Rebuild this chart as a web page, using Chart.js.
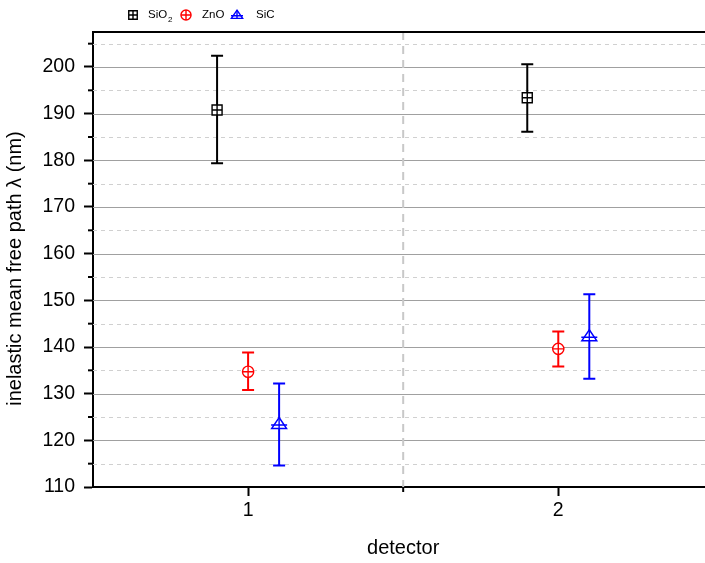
<!DOCTYPE html>
<html>
<head>
<meta charset="utf-8">
<script src="https://cdn.jsdelivr.net/npm/chart.js@4.4.1/dist/chart.umd.min.js"></script>
<style>
  body { margin: 0; background: #fff; }
  #wrap { width: 705px; height: 563px; }
</style>
</head>
<body>
<div id="wrap"><canvas id="chart"></canvas></div>
<script>
// values
const detectors = [1, 2];
const yTickValues = [110, 120, 130, 140, 150, 160, 170, 180, 190, 200];
const yMinorValues = [115, 125, 135, 145, 155, 165, 175, 185, 195, 205];

const sio2 = [190.8, 193.4];
const sio2Low = [179.4, 186.1];
const sio2High = [202.4, 200.6];

const zno = [134.7, 139.6];
const znoLow = [130.8, 135.8];
const znoHigh = [138.8, 143.3];

const sic = [123.5, 142.3];
const sicLow = [114.6, 133.2];
const sicHigh = [132.2, 151.3];

const FONT = "'Liberation Sans', Arial, sans-serif";
const yTitle = 'inelastic mean free path λ (nm)';
const xTitle = 'detector';

const makePoints = (vals, lows, highs, shift) =>
    detectors.map((d, i) => ({ x: d + shift, y: vals[i], lo: lows[i], hi: highs[i] }));

const drawMarker = (c, kind, x, y, color, k = 1) => {
    c.save();
    c.strokeStyle = color;
    c.lineWidth = 1.4;
    c.fillStyle = '#fff';
    c.beginPath();
    if (kind === 'square') {
        const h = 5 * k;
        c.rect(x - h, y - h, 2 * h, 2 * h);
        c.fill(); c.stroke();
        c.beginPath();
        c.moveTo(x - h, y); c.lineTo(x + h, y);
        c.moveTo(x, y - h); c.lineTo(x, y + h);
    } else if (kind === 'circle') {
        const r = 5.6 * k;
        c.arc(x, y, r, 0, Math.PI * 2);
        c.fill(); c.stroke();
        c.beginPath();
        c.moveTo(x - r, y); c.lineTo(x + r, y);
        c.moveTo(x, y - r); c.lineTo(x, y + r);
    } else {
        c.moveTo(x, y - 6.5 * k);
        c.lineTo(x + 7.5 * k, y + 4.5 * k);
        c.lineTo(x - 7.5 * k, y + 4.5 * k);
        c.closePath();
        c.fill(); c.stroke();
        c.beginPath();
        c.moveTo(x - 8 * k, y + 1 * k); c.lineTo(x + 8 * k, y + 1 * k);
        c.moveTo(x, y - 6.5 * k); c.lineTo(x, y + 4.5 * k);
    }
    c.stroke();
    c.restore();
};

const kinds = ['square', 'circle', 'triangle'];

// grid, separator, minor ticks, top frame, titles, error bars, legend
const backdrop = {
    id: 'backdrop',
    beforeDatasetsDraw(chart) {
        const c = chart.ctx;
        const a = chart.chartArea;
        const xs = chart.scales.x;
        const ys = chart.scales.y;
        c.save();
        c.lineWidth = 1;
        c.strokeStyle = '#d0d0d0';
        c.setLineDash([4, 4]);
        yMinorValues.forEach(v => {
            const py = Math.round(ys.getPixelForValue(v)) + 0.5;
            c.beginPath(); c.moveTo(a.left, py); c.lineTo(a.right, py); c.stroke();
        });
        c.setLineDash([]);
        c.strokeStyle = '#a0a0a0';
        yTickValues.slice(1).forEach(v => {
            const py = Math.round(ys.getPixelForValue(v)) + 0.5;
            c.beginPath(); c.moveTo(a.left, py); c.lineTo(a.right, py); c.stroke();
        });
        // separator between detectors
        const sx = xs.getPixelForValue(1.5);
        c.strokeStyle = '#c8c8c8';
        c.lineWidth = 2;
        c.setLineDash([8, 6]);
        c.beginPath(); c.moveTo(sx, a.top); c.lineTo(sx, a.bottom); c.stroke();
        c.setLineDash([]);
        // minor ticks
        c.strokeStyle = '#000';
        c.lineWidth = 2;
        yMinorValues.forEach(v => {
            const py = ys.getPixelForValue(v);
            c.beginPath(); c.moveTo(a.left - 5, py); c.lineTo(a.left, py); c.stroke();
        });
        c.beginPath(); c.moveTo(sx, a.bottom); c.lineTo(sx, a.bottom + 5); c.stroke();
        // top frame
        c.beginPath(); c.moveTo(a.left - 1, a.top); c.lineTo(a.right, a.top); c.stroke();
        // titles
        c.font = '20px ' + FONT;
        c.fillStyle = '#000';
        c.textAlign = 'center';
        c.textBaseline = 'middle';
        c.fillText(xTitle, sx, 548);
        c.translate(15, (a.top + a.bottom) / 2 + 9);
        c.rotate(-Math.PI / 2);
        c.fillText(yTitle, 0, 0);
        c.restore();
    },
    afterDatasetsDraw(chart) {
        const c = chart.ctx;
        const ys = chart.scales.y;
        chart.data.datasets.forEach((ds, di) => {
            const meta = chart.getDatasetMeta(di);
            meta.data.forEach((pt, i) => {
                const raw = ds.data[i];
                const top = ys.getPixelForValue(raw.hi);
                const bot = ys.getPixelForValue(raw.lo);
                c.save();
                c.strokeStyle = ds.borderColor;
                c.lineWidth = 2;
                c.beginPath();
                c.moveTo(pt.x, top); c.lineTo(pt.x, bot);
                c.moveTo(pt.x - 6, top); c.lineTo(pt.x + 6, top);
                c.moveTo(pt.x - 6, bot); c.lineTo(pt.x + 6, bot);
                c.stroke();
                c.restore();
                drawMarker(c, kinds[di], pt.x, pt.y, ds.borderColor);
            });
        });
        // legend
        c.save();
        c.font = '11.5px ' + FONT;
        c.fillStyle = '#000';
        c.textBaseline = 'middle';
        drawMarker(c, 'square', 133, 15, '#000000', 0.85);
        c.fillText('SiO', 148, 15);
        c.font = '8px ' + FONT;
        c.fillText('2', 168, 20);
        c.font = '11.5px ' + FONT;
        drawMarker(c, 'circle', 186, 15, '#ff0000', 0.9);
        c.fillText('ZnO', 202, 15);
        drawMarker(c, 'triangle', 237, 15, '#0000ff', 0.75);
        c.fillText('SiC', 256, 15);
        c.restore();
    }
};

new Chart(document.getElementById('chart'), {
    type: 'scatter',
    data: {
        datasets: [
            { label: 'SiO2', data: makePoints(sio2, sio2Low, sio2High, -0.1), borderColor: '#000000', pointRadius: 0 },
            { label: 'ZnO', data: makePoints(zno, znoLow, znoHigh, 0), borderColor: '#ff0000', pointRadius: 0 },
            { label: 'SiC', data: makePoints(sic, sicLow, sicHigh, 0.1), borderColor: '#0000ff', pointRadius: 0 }
        ]
    },
    options: {
        responsive: true,
        maintainAspectRatio: false,
        animation: false,
        layout: { padding: { top: 32, right: 0, left: 0, bottom: 0 } },
        plugins: { legend: { display: false }, tooltip: { enabled: false } },
        scales: {
            x: {
                type: 'linear',
                min: 0.5,
                max: 2.473,
                afterBuildTicks: s => { s.ticks = detectors.map(v => ({ value: v })); },
                afterFit: s => { s.height = 76; },
                grid: { drawOnChartArea: false, drawTicks: true, tickLength: 9, tickWidth: 2, tickColor: '#000' },
                border: { color: '#000', width: 2 },
                ticks: { color: '#000', font: { family: FONT, size: 19.5 }, padding: 3 },
                title: { display: false }
            },
            y: {
                min: 110,
                max: 207.5,
                afterBuildTicks: s => { s.ticks = yTickValues.map(v => ({ value: v })); },
                afterFit: s => { s.width = 93; },
                grid: { drawOnChartArea: false, drawTicks: true, tickLength: 9, tickWidth: 2, tickColor: '#000' },
                border: { color: '#000', width: 2 },
                ticks: { color: '#000', font: { family: FONT, size: 19.5 }, padding: 9 },
                title: { display: false }
            }
        }
    },
    plugins: [backdrop]
});
</script>
</body>
</html>
